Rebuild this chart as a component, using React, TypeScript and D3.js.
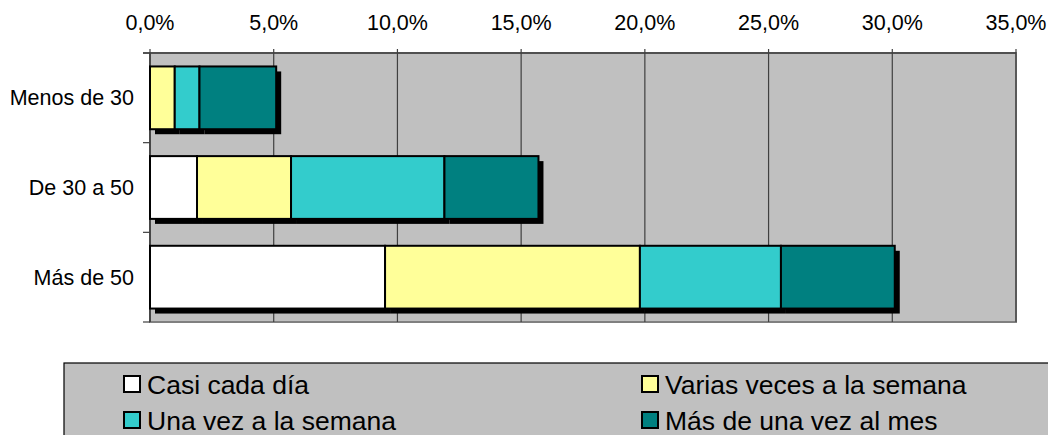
import React from "react";
import * as d3 from "d3";

const categories = ["Menos de 30", "De 30 a 50", "Más de 50"];
const seriesNames = ["Casi cada día", "Varias veces a la semana", "Una vez a la semana", "Más de una vez al mes"];
const casiCadaDia = [0, 1.9, 9.5];
const variasVeces = [1.0, 3.8, 10.3];
const unaVez = [1.0, 6.2, 5.7];
const masDeUnaVez = [3.1, 3.8, 4.6];
const xTicks = [0, 5, 10, 15, 20, 25, 30, 35];
const colors = ["#FFFFFF", "#FFFF99", "#33CCCC", "#008080"];

const W = 1048;
const H = 435;
const plot = { left: 150, right: 1016, top: 53, bottom: 322 };
const font = "'Liberation Sans', Arial, sans-serif";

export default function App() {
  const x = d3.scaleLinear().domain([0, 35]).range([plot.left, plot.right]);
  const y = d3.scaleBand<string>()
    .domain(categories)
    .range([plot.top, plot.bottom])
    .paddingInner(0.3)
    .paddingOuter(0.15);

  const rows = categories.map((c, i) => ({
    cat: c,
    s0: casiCadaDia[i],
    s1: variasVeces[i],
    s2: unaVez[i],
    s3: masDeUnaVez[i],
  }));
  const stack = d3.stack<any>().keys(["s0", "s1", "s2", "s3"])(rows);

  const segs = stack.flatMap((layer, si) =>
    layer.map((d) => ({
      si,
      cat: d.data.cat as string,
      x0: x(d[0]),
      x1: x(d[1]),
    }))
  ).filter((s) => s.x1 - s.x0 > 0.5);

  const bw = y.bandwidth();
  const fmt = (v: number) => d3.format(".1f")(v).replace(".", ",") + "%";
  const catBounds = [plot.top, ...categories.map((c) => (y(c) as number) + bw + (y.step() - bw) / 2)];

  const legendItems = seriesNames.map((n, i) => ({
    name: n,
    color: colors[i],
    col: i % 2,
    row: Math.floor(i / 2),
  }));
  const legCols = [124, 642];
  const legRows = [376, 412];

  return (
    <svg width={W} height={H} style={{ position: "absolute", left: 0, top: 0 }} fontFamily={font}>
      <rect x={0} y={0} width={W} height={H} fill="#fff" />
      {/* plot area */}
      <rect x={plot.left} y={plot.top} width={plot.right - plot.left} height={plot.bottom - plot.top} fill="#C0C0C0" stroke="#808080" strokeWidth={2} />
      {xTicks.map((t) => (
        <g key={t}>
          <line x1={x(t)} x2={x(t)} y1={plot.top - 4} y2={plot.bottom} stroke="#404040" strokeWidth={1.2} />
          <text x={x(t)} y={30} fontSize={21.5} textAnchor="middle" fill="#000">{fmt(t)}</text>
        </g>
      ))}
      <line x1={plot.left - 7} x2={plot.right} y1={plot.top} y2={plot.top} stroke="#404040" strokeWidth={1.5} />
      <line x1={plot.left} x2={plot.left} y1={plot.top} y2={plot.bottom} stroke="#404040" strokeWidth={1.5} />
      {catBounds.map((b, i) => (
        <line key={i} x1={plot.left - 7} x2={plot.left} y1={b} y2={b} stroke="#404040" strokeWidth={1.2} />
      ))}
      {categories.map((c) => (
        <text key={c} x={134} y={(y(c) as number) + bw / 2 + 7.5} fontSize={21.5} textAnchor="end" fill="#000">{c}</text>
      ))}
      {/* shadows */}
      {segs.map((s, i) => (
        <rect key={"sh" + i} x={s.x0 + 5} y={(y(s.cat) as number) + 5} width={s.x1 - s.x0} height={bw} fill="#000" />
      ))}
      {segs.map((s, i) => (
        <rect key={"b" + i} x={s.x0} y={y(s.cat)} width={s.x1 - s.x0} height={bw} fill={colors[s.si]} stroke="#000" strokeWidth={2} />
      ))}
      {/* legend */}
      <rect x={64} y={363} width={1100} height={120} fill="#C0C0C0" stroke="#000" strokeWidth={1.2} />
      {legendItems.map((l) => (
        <g key={l.name}>
          <rect x={legCols[l.col]} y={legRows[l.row]} width={16} height={16} fill={l.color} stroke="#000" strokeWidth={2} />
          <text x={legCols[l.col] + 23} y={legRows[l.row] + 18} fontSize={26.5} fill="#000">{l.name}</text>
        </g>
      ))}
    </svg>
  );
}
